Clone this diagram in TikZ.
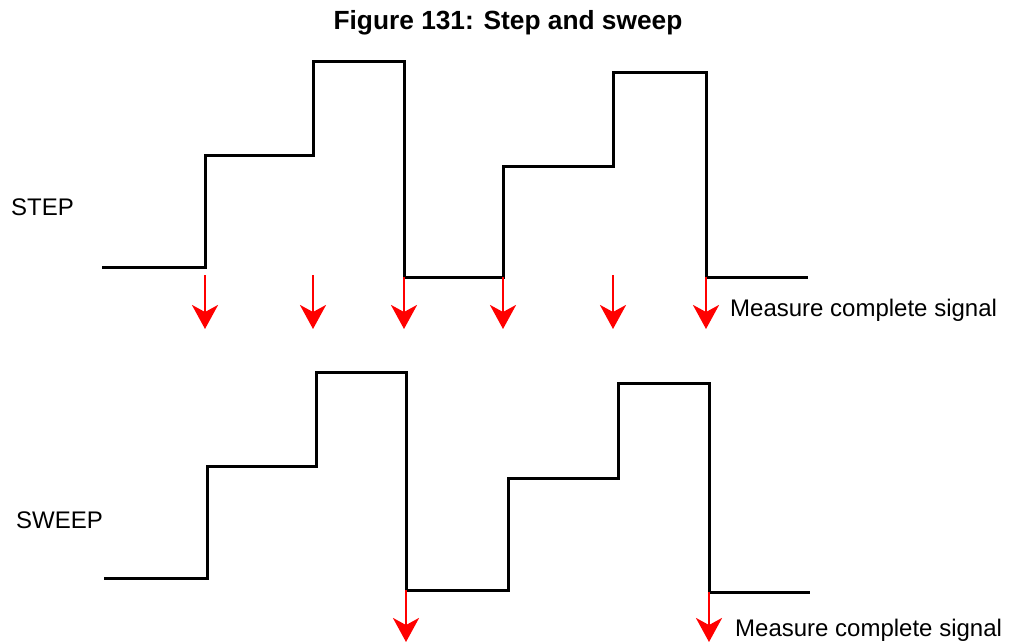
\documentclass[tikz,border=0pt]{standalone}
\usepackage{fontspec}
\setmainfont{Liberation Sans}
\usetikzlibrary{arrows.meta}
\tikzset{
  wave/.style={line width=3pt, line join=miter},
  meas/.style={red, line width=2.8pt, -{Stealth[length=24pt,width=26pt,inset=7pt]}},
  lbl/.style={font=\fontsize{24}{28}\selectfont, inner sep=0pt},
}
\begin{document}
\begin{tikzpicture}[x=1pt,y=-1pt]
  \useasboundingbox (0,0) rectangle (1011,643);
  \node[font=\bfseries\fontsize{26.3}{31}\selectfont] (title) at (508,23) {Figure 131: Step and sweep};
  % step row
  \node[lbl, anchor=west] (steplbl) at (11,207) {STEP};
  \draw[wave] (102,267) -- (205,267) -- (205,155) -- (313,155) -- (313,61) -- (404,61)
    -- (404,277) -- (503,277) -- (503,166) -- (613,166) -- (613,72) -- (706,72)
    -- (706,277) -- (808,277);
  \foreach \x/\y [count=\i] in {205/275, 313/275, 404/277, 503/277, 613/275, 706/277} {
    \coordinate (st\i) at (\x,\y);
    \coordinate (sb\i) at (\x,329);
    \draw[meas] (st\i) -- (sb\i);
  }
  \node[lbl, anchor=west] (meas1) at (730,310) {Measure complete signal};
  % sweep row
  \node[lbl, anchor=west] (sweeplbl) at (16,520) {SWEEP};
  \draw[wave] (104,578) -- (207,578) -- (207,466) -- (316,466) -- (316,372) -- (406,372)
    -- (406,590) -- (508,590) -- (508,478) -- (618,478) -- (618,383) -- (709,383)
    -- (709,592) -- (810,592);
  \coordinate (wt1) at (406,590);
  \coordinate (wb1) at (406,642);
  \coordinate (wt2) at (709,592);
  \coordinate (wb2) at (709,642);
  \draw[meas] (wt1) -- (wb1);
  \draw[meas] (wt2) -- (wb2);
  \node[lbl, anchor=west] (meas2) at (735,630) {Measure complete signal};
\end{tikzpicture}
\end{document}
